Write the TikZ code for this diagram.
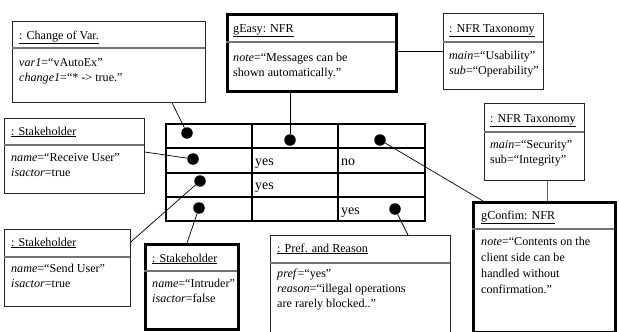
\documentclass[tikz,border=0pt]{standalone}
\usepackage{fontspec}
\setmainfont{Liberation Serif}
\usetikzlibrary{calc}
\begin{document}
\begin{tikzpicture}[x=1pt,y=-1pt,
  obj/.style={draw=black!85, line width=0.7pt, inner sep=0, anchor=north west},
  thickobj/.style={draw=black, line width=3.2pt, inner sep=0, anchor=north west},
  divider/.style={draw=black!55, line width=1.1pt},
  ttl/.style={anchor=base west, inner sep=0, font=\fontsize{12.1}{15}\selectfont},
  body/.style={anchor=north west, inner sep=0, align=left, font=\fontsize{12.1}{15}\selectfont},
  dot/.style={circle, fill=black, inner sep=0, minimum size=11.5pt},
  conn/.style={draw=black, line width=0.7pt},
  tbl/.style={line width=1.8pt},
  cell/.style={anchor=base west, inner sep=0, font=\fontsize{14}{16}\selectfont}]
\useasboundingbox (0,0) rectangle (619,332);

% ---- table ----
\draw[tbl] (166,124) rectangle (425,221);
\draw[tbl] (166,148) -- (425,148) (166,173) -- (425,173) (166,197) -- (425,197);
\draw[tbl] (252,124) -- (252,221) (338,124) -- (338,221);
\node[cell] (c22) at (255,165) {yes};
\node[cell] (c23) at (341,165) {no};
\node[cell] (c32) at (255,189) {yes};
\node[cell] (c43) at (341,214) {yes};
\node[dot] (d11) at (187,133) {};
\node[dot] (d12) at (290,140) {};
\node[dot] (d13) at (380,140) {};
\node[dot] (d21) at (193,159) {};
\node[dot] (d31) at (200,181) {};
\node[dot] (d41) at (199,208) {};
\node[dot] (d43) at (395,209) {};

% ---- Change of Var ----
\node[obj, minimum width=193pt, minimum height=81pt] (cv) at (12,21) {};
\draw[divider] (12,48) -- (205,48);
\node[ttl] (cvt) at (19,39) {\underline{: Change of Var.}};
\node[body] (cvb) at (19,58) {\textit{var1}=“vAutoEx”\\\textit{change1}=“* -> true.”};

% ---- gEasy ----
\node[thickobj, minimum width=169pt, minimum height=77pt] (ge) at (226,13) {};
\draw[divider] (226,42) -- (395,42);
\node[ttl] (get) at (233,32) {\underline{gEasy: NFR}};
\node[body] (geb) at (233,53) {\textit{note}=“Messages can be\\shown automatically.”};

% ---- NFR Taxonomy 1 ----
\node[obj, minimum width=100pt, minimum height=76pt] (t1) at (443,13) {};
\draw[divider] (443,42) -- (543,42);
\node[ttl] (t1t) at (449,32) {\underline{: NFR Taxonomy}};
\node[body] (t1b) at (449,51) {\textit{main}=“Usability”\\\textit{sub}=“Operability”};

% ---- Stakeholder Receive ----
\node[obj, minimum width=140pt, minimum height=75pt] (s1) at (4,118) {};
\draw[divider] (4,145) -- (144,145);
\node[ttl] (s1t) at (11,135) {\underline{: Stakeholder}};
\node[body] (s1b) at (11,153) {\textit{name}=“Receive User”\\\textit{isactor}=true};

% ---- NFR Taxonomy 2 ----
\node[obj, minimum width=100pt, minimum height=77pt] (t2) at (484,103) {};
\draw[divider] (484,132) -- (584,132);
\node[ttl] (t2t) at (490,122) {\underline{: NFR Taxonomy}};
\node[body] (t2b) at (490,140) {\textit{main}=“Security”\\sub=“Integrity”};

% ---- Stakeholder Send ----
\node[obj, minimum width=126pt, minimum height=77pt] (s2) at (4,229) {};
\draw[divider] (4,257) -- (130,257);
\node[ttl] (s2t) at (11,246) {\underline{: Stakeholder}};
\node[body] (s2b) at (11,264) {\textit{name}=“Send User”\\\textit{isactor}=true};

% ---- Intruder ----
\node[thickobj, minimum width=93pt, minimum height=85pt] (in) at (144,243) {};
\draw[divider] (144,271) -- (237,271);
\node[ttl] (int) at (152,262) {\underline{: Stakeholder}};
\node[body] (inb) at (152,279) {\textit{name}=“Intruder”\\\textit{isactor}=false};

% ---- Pref and Reason ----
\node[obj, minimum width=180pt, minimum height=100pt] (pr) at (270,235) {};
\draw[divider] (270,263) -- (450,263);
\node[ttl] (prt) at (277,252) {\underline{: Pref. and Reason}};
\node[body] (prb) at (277,269) {\textit{pref}=“yes”\\\textit{reason}=“illegal operations\\are rarely blocked..”};

% ---- gConfim ----
\node[thickobj, minimum width=142pt, minimum height=130pt] (gc) at (472,201) {};
\draw[divider] (472,229) -- (614,229);
\node[ttl] (gct) at (481,219) {\underline{gConfim: NFR}};
\node[body, font=\fontsize{12.1}{16}\selectfont] (gcb) at (481,237) {\textit{note}=“Contents on the\\client side can be\\handled without\\confirmation.”};

% ---- connectors ----
\draw[conn] ($(cv.south west)+(160,0)$) -- (d11);
\draw[conn] ($(s1.north east)+(0,34)$) -- (d21);
\draw[conn] ($(s2.north east)+(0,13)$) -- (d31);
\draw[conn] ($(in.north west)+(43,0)$) -- (d41);
\draw[conn] ($(pr.north west)+(138,0)$) -- (d43);
\draw[conn] ($(gc.north west)+(11,0)$) -- (d13);
\draw[conn] (d12) -- (d12 |- ge.south);
\draw[conn] ($(ge.north east)+(0,38)$) -- ($(t1.north west)+(0,38)$);
\draw[conn, draw=black!60] ($(t2.south west)+(63,0)$) -- ($(gc.north west)+(75,0)$);
\end{tikzpicture}
\end{document}
